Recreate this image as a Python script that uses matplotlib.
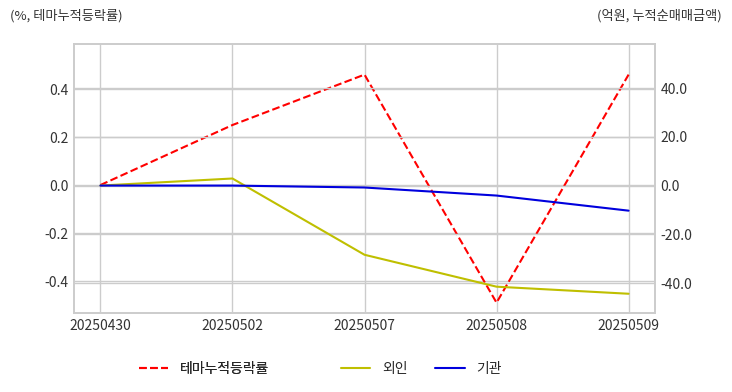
import matplotlib
matplotlib.use("Agg")
import matplotlib.pyplot as plt

plt.style.use("seaborn-v0_8-whitegrid")
plt.rcParams['font.family'] = ['Noto Sans CJK KR', 'DejaVu Sans']
plt.rcParams['axes.unicode_minus'] = False

# dates on x axis
dates = ["20250430", "20250502", "20250507", "20250508", "20250509"]
# theme cumulative change (%), left axis
theme = [0.0, 0.25, 0.46, -0.49, 0.46]
# cumulative net buying (100M KRW), right axis
foreign = [0.0, 2.9, -28.4, -41.5, -44.4]
inst = [0.0, 0.0, -0.8, -4.1, -10.3]

fig = plt.figure(figsize=(7.32, 3.92), dpi=100)
ax = fig.add_axes([74 / 732, 1 - 313 / 392, 581 / 732, 269 / 392])
ax2 = ax.twinx()

x = list(range(len(dates)))
l1, = ax.plot(x, theme, color="red", linestyle="--", linewidth=1.5, label="테마누적등락률")
l2, = ax2.plot(x, foreign, color="#bfbf00", linewidth=1.5, label="외인")
l3, = ax2.plot(x, inst, color="#0000dd", linewidth=1.5, label="기관")

ax.set_xlim(-0.2, 4.2)
ax.set_ylim(-0.533, 0.5875)
ax2.set_ylim(-52.3, 58.1)
ax.set_xticks(x)
ax.set_xticklabels(dates)
ax.set_yticks([-0.4, -0.2, 0.0, 0.2, 0.4])
ax.set_yticklabels(["-0.4", "-0.2", "0.0", "0.2", "0.4"])
ax2.set_yticks([-40, -20, 0, 20, 40])
ax2.set_yticklabels(["-40.0", "-20.0", "0.0", "20.0", "40.0"])

for a in (ax, ax2):
    a.grid(True, color="#cccccc", linewidth=1.0)
    a.tick_params(labelsize=10, colors="#333333", length=0, pad=4)
    for s in a.spines.values():
        s.set_color("#cccccc")
        s.set_linewidth(1.2)
ax2.grid(True, axis="y", color="#cccccc", linewidth=1.0)
ax2.grid(False, axis="x")

fig.text(10 / 732, 1 - 16 / 392, "(%, 테마누적등락률)", fontsize=9.5, color="#333333", va="center")
fig.text(722 / 732, 1 - 16 / 392, "(억원, 누적순매매금액)", fontsize=9.5, color="#333333",
         va="center", ha="right")

leg_kw = dict(loc="center left", frameon=False, fontsize=10, handlelength=2.1,
              handletextpad=0.86, borderaxespad=0)
leg1 = fig.legend(handles=[l1], bbox_to_anchor=(133.4 / 732, 1 - 369 / 392), **leg_kw)
fig.add_artist(leg1)
fig.legend(handles=[l2, l3], bbox_to_anchor=(335.4 / 732, 1 - 369 / 392), ncol=2,
           columnspacing=2.0, **leg_kw)

fig.savefig("out.png", dpi=100)
